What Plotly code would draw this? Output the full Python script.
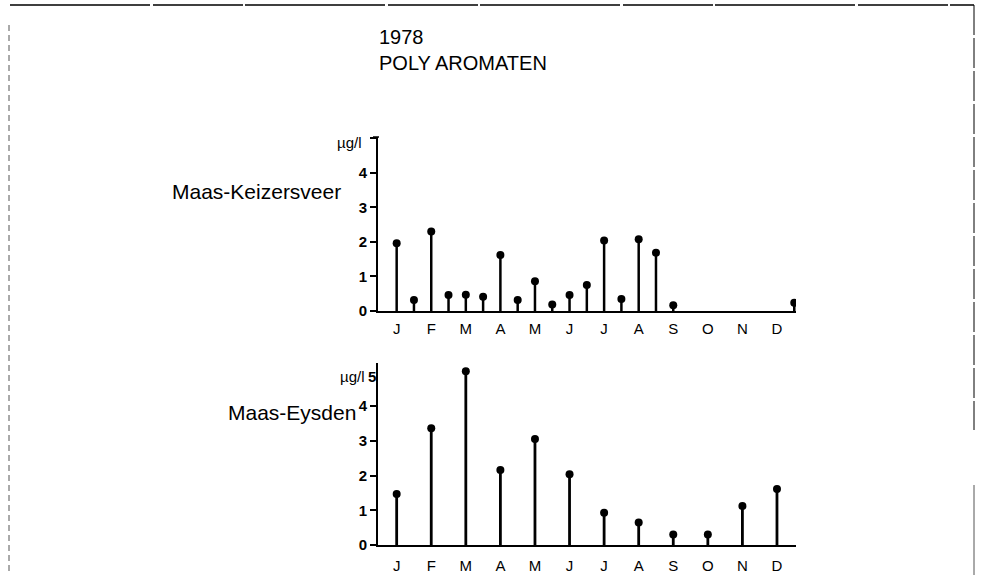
import plotly.graph_objects as go

W, H = 982, 575
# vertical layout positions below are given in page pixels; the rendered
# figure comes out slightly shorter than its nominal height, so stretch them
KY = 575 / 567

# Sampling dates expressed in months from 1 January (0 = J, 0.5 = mid-January, ...)
keizersveer_t = [0, 0.5, 1, 1.5, 2, 2.5, 3, 3.5, 4, 4.5, 5, 5.5, 6, 6.5, 7, 7.5, 8, 11.5]
keizersveer_v = [1.96, 0.32, 2.30, 0.46, 0.47, 0.41, 1.62, 0.32, 0.86, 0.19,
                 0.46, 0.75, 2.04, 0.35, 2.08, 1.69, 0.17, 0.24]

eysden_t = [0, 1, 2, 3, 4, 5, 6, 7, 8, 9, 10, 11]
eysden_v = [1.47, 3.36, 5.0, 2.16, 3.05, 2.04, 0.93, 0.65, 0.30, 0.30, 1.12, 1.61]

month_labels = ["J", "F", "M", "A", "M", "J", "J", "A", "S", "O", "N", "D"]
y_ticks = [0, 1, 2, 3, 4]

FONT = "Liberation Sans, Arial, sans-serif"


def px_x(x):
    return x / W


def px_y(y):
    return 1 - y * KY / H


def stems(t, v):
    xs, ys = [], []
    for a, b in zip(t, v):
        xs += [a, a, None]
        ys += [0, b, None]
    return xs, ys


fig = go.Figure()

for t, v, xa, ya, lw in [(keizersveer_t, keizersveer_v, "x", "y", 2.5),
                         (eysden_t, eysden_v, "x2", "y2", 2.8)]:
    sx, sy = stems(t, v)
    fig.add_trace(go.Scatter(x=sx, y=sy, mode="lines", xaxis=xa, yaxis=ya,
                             line=dict(color="black", width=lw),
                             hoverinfo="skip", showlegend=False))
    fig.add_trace(go.Scatter(x=t, y=v, mode="markers", xaxis=xa, yaxis=ya,
                             marker=dict(color="black", size=8),
                             showlegend=False))

x_dom = [px_x(378), px_x(796)]
x_range = [-0.54, 11.55]

xcommon = dict(domain=x_dom, range=x_range, tickmode="array",
               tickvals=list(range(12)), ticktext=month_labels,
               showline=True, linecolor="black", linewidth=1.6,
               ticks="", showgrid=False, zeroline=False,
               tickfont=dict(family=FONT, size=15, color="black"))
ycommon = dict(tickmode="array", tickvals=y_ticks,
               ticktext=[str(v) for v in y_ticks],
               showline=True, linecolor="black", linewidth=1.8,
               ticks="outside", ticklen=6, tickwidth=1.5, tickcolor="black",
               showgrid=False, zeroline=False,
               tickfont=dict(family=FONT, size=15, color="black", weight="bold"))

fig.update_layout(
    width=W, height=H,
    margin=dict(l=0, r=0, t=0, b=0),
    paper_bgcolor="white", plot_bgcolor="white",
    showlegend=False,
    xaxis=dict(anchor="y", ticklabelstandoff=3, **xcommon),
    yaxis=dict(anchor="x", domain=[px_y(311), px_y(137)], range=[0, 5.04],
               **{**ycommon, "tickvals": y_ticks + [5], "ticktext": [str(v) for v in y_ticks] + [""]}),
    xaxis2=dict(anchor="y2", ticklabelstandoff=6, **xcommon),
    yaxis2=dict(anchor="x2", domain=[px_y(545), px_y(363)], range=[0, 5.24], **ycommon),
)

ann = [
    dict(text="1978", x=px_x(377), y=px_y(37), size=20),
    dict(text="POLY AROMATEN", x=px_x(377), y=px_y(63), size=20),
]
for a in ann:
    fig.add_annotation(text=a["text"], x=a["x"], y=a["y"], xref="paper", yref="paper",
                       xanchor="left", yanchor="middle", showarrow=False,
                       font=dict(family=FONT, size=a["size"], color="black"))

right_labels = [
    dict(text="Maas-Keizersveer", x=px_x(343), y=px_y(191), size=21, bold=False),
    dict(text="Maas-Eysden", x=px_x(358), y=px_y(413), size=21, bold=False),
    dict(text="µg/l", x=px_x(364), y=px_y(142), size=15, bold=False),
    dict(text="µg/l", x=px_x(367), y=px_y(377), size=15, bold=False),
    dict(text="5", x=px_x(378), y=px_y(377), size=15, bold=True),
]
for a in right_labels:
    fig.add_annotation(text=a["text"], x=a["x"], y=a["y"], xref="paper", yref="paper",
                       xanchor="right", yanchor="middle", showarrow=False,
                       font=dict(family=FONT, size=a["size"], color="black",
                                 weight="bold" if a["bold"] else "normal"))

# short hook at the top of the upper value axis
fig.add_shape(type="line", xref="paper", yref="paper",
              x0=px_x(373), x1=px_x(379), y0=px_y(137), y1=px_y(137),
              line=dict(color="black", width=1.5))

# page frame
fig.add_shape(type="line", xref="paper", yref="paper",
              x0=px_x(10), x1=px_x(974), y0=px_y(5), y1=px_y(5),
              line=dict(color="black", width=1.6, dash="140px,3px,90px,2px"))
fig.add_shape(type="line", xref="paper", yref="paper",
              x0=px_x(9), x1=px_x(9), y0=px_y(25), y1=px_y(575),
              line=dict(color="#555555", width=1, dash="6px,4px"))
fig.add_shape(type="line", xref="paper", yref="paper",
              x0=px_x(974), x1=px_x(974), y0=px_y(5), y1=px_y(430),
              line=dict(color="black", width=1, dash="30px,3px"))
fig.add_shape(type="line", xref="paper", yref="paper",
              x0=px_x(974), x1=px_x(974), y0=px_y(485), y1=px_y(575),
              line=dict(color="#555555", width=1))

fig.write_html("out.html")
